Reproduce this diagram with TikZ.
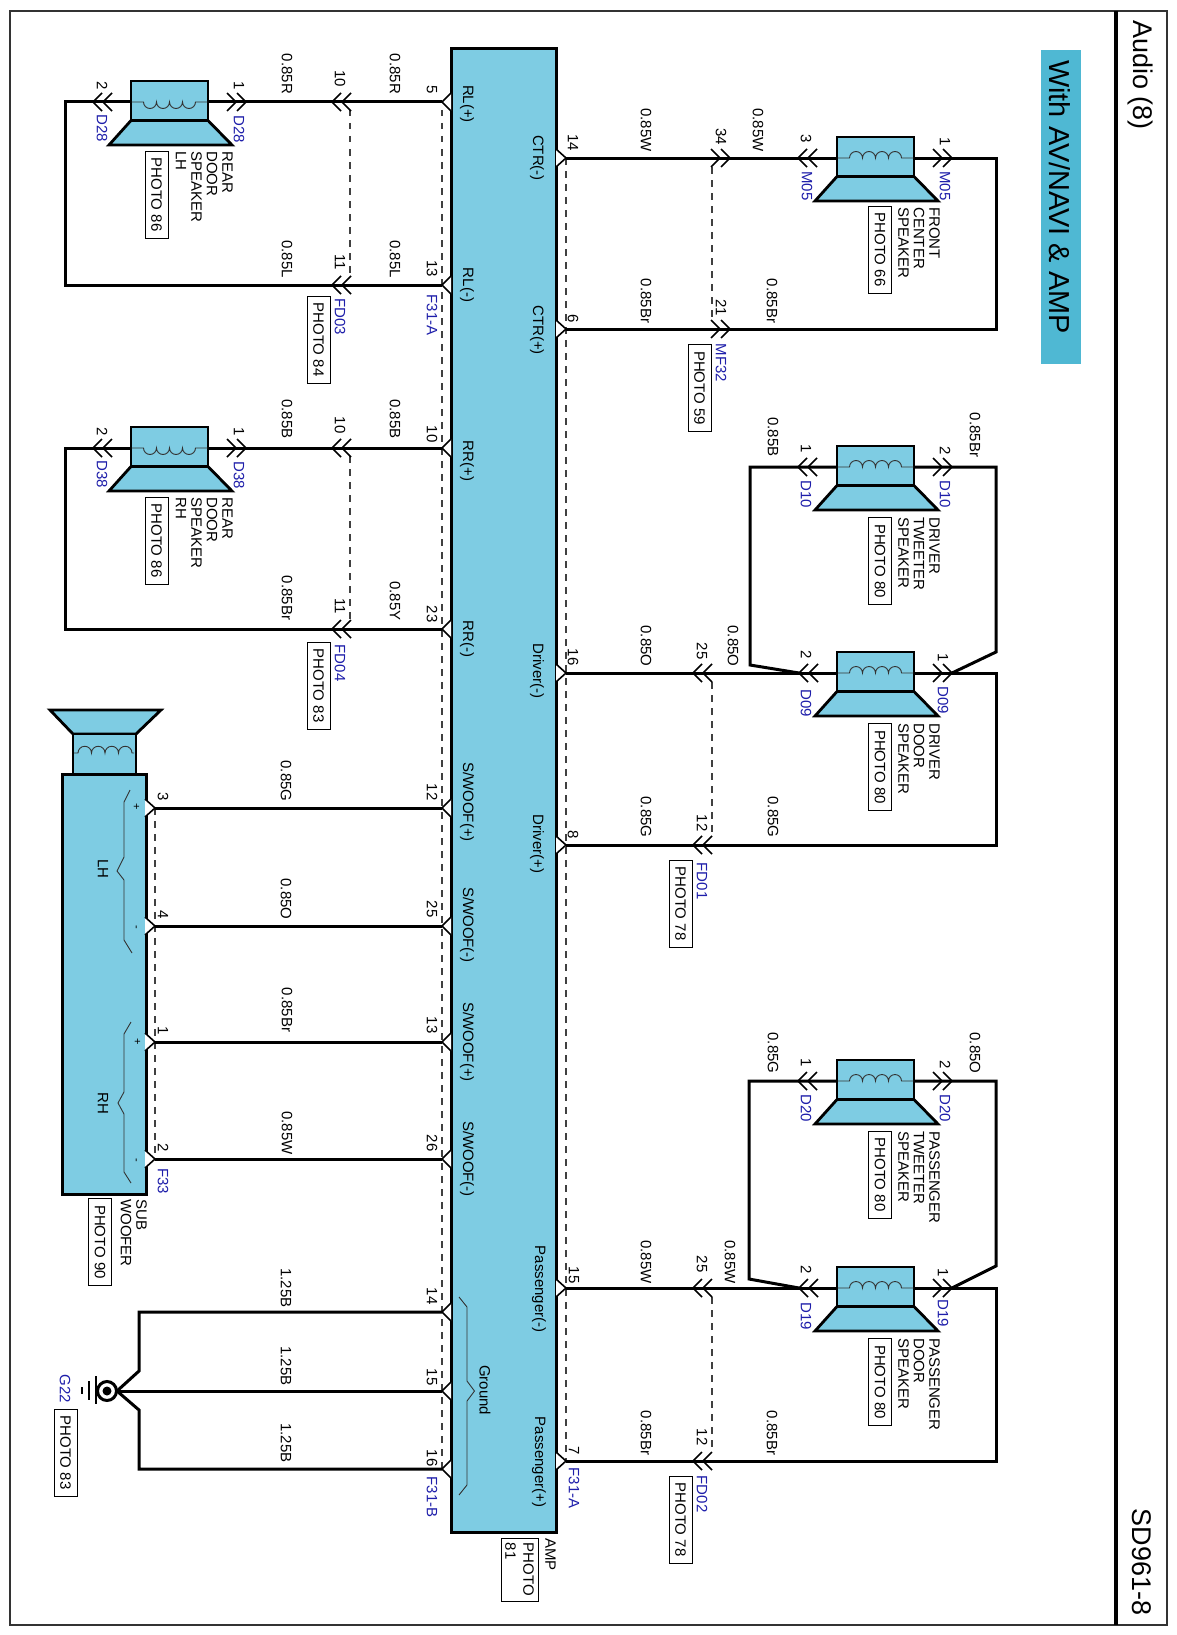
\documentclass[tikz,border=0pt]{standalone}
\usepackage{fontspec}
\setmainfont{Liberation Sans}
\definecolor{ampfill}{RGB}{126,204,227}
\definecolor{titlefill}{RGB}{79,184,211}
\definecolor{conblue}{RGB}{30,30,170}
\tikzset{
    every node/.style={inner sep=0pt, font=\fontsize{15}{15.5}\selectfont},
    pt/.style={shape=coordinate},
    wire/.style={line width=3pt, line join=miter},
    dash line/.style={line width=1.1pt, draw=black!75, dash pattern=on 6.5pt off 6.5pt},
    chev/.style={line width=1.6pt},
    body/.style={line width=2.8pt, fill=ampfill},
    coil/.style={line width=.9pt, draw=black!80},
    conn/.style={text=conblue},
    photo/.style={draw, line width=.8pt, fill=white, inner sep=0pt, anchor=center, align=left},
    caption/.style={anchor=north west, align=left},
    brace/.style={line width=.9pt, draw=black!80},
    pics/conL/.style={code={
        \draw[chev] (9,-9) -- (0,0) -- (9,9);
        \draw[chev] (19,-9) -- (10,0) -- (19,9);
    }},
    pics/conR/.style={code={
        \draw[chev] (-9,-9) -- (0,0) -- (-9,9);
        \draw[chev] (-19,-9) -- (-10,0) -- (-19,9);
    }},
    pics/pinL/.style={code={\draw[chev, fill=white] (9,-9) -- (0,0) -- (9,9);}},
    pics/pinR/.style={code={\draw[chev, fill=white] (-10,-9) -- (0,0) -- (-10,9);}},
    pics/speaker/.style={code={
        \draw[body, line join=miter] (-38.5,18.5) -- (38.5,18.5) -- (62.5,43) -- (-60.5,43) -- cycle;
        \draw[body] (-38.5,-21) rectangle (38.5,18.5);
        \draw[coil] (-38,0) -- (-26,0) arc[start angle=180, end angle=#1, radius=6.5]
            arc[start angle=180, end angle=#1, radius=6.5]
            arc[start angle=180, end angle=#1, radius=6.5]
            arc[start angle=180, end angle=#1, radius=6.5] -- (38,0);
    }},
}
\begin{document}
\begin{tikzpicture}[x=1pt, y=-1pt]
	\useasboundingbox (0,0) rectangle (1176,1635);
	\fill[white] (0,0) rectangle (1176,1635);

	% frame and title
	\draw[line width=1.1pt, draw=black!80] (10,11) rectangle (1167,1625);
	\draw[line width=4pt] (1116,11) -- (1116,1625);
	\fill[titlefill] (1041,50) rectangle (1081,364);

	% wire ends
	\node (amp5) [pt] at (442,102) {};   \node (amp13) [pt] at (442,285) {};
	\node (amp10) [pt] at (442,448) {};  \node (amp23) [pt] at (442,629) {};
	\node (amp12) [pt] at (442,808) {};  \node (amp25) [pt] at (442,926) {};
	\node (amp13b) [pt] at (442,1042) {}; \node (amp26) [pt] at (442,1159) {};
	\node (amp14b) [pt] at (442,1312) {}; \node (amp15b) [pt] at (442,1391) {};
	\node (amp16b) [pt] at (442,1469) {};
	\node (amp14) [pt] at (566,158) {};  \node (amp6) [pt] at (566,329) {};
	\node (amp16) [pt] at (566,673) {};  \node (amp8) [pt] at (566,845) {};
	\node (amp15) [pt] at (566,1288) {}; \node (amp7) [pt] at (566,1461) {};
	\node (sub3) [pt] at (155,808) {};   \node (sub4) [pt] at (155,926) {};
	\node (sub1) [pt] at (155,1042) {};  \node (sub2) [pt] at (155,1159) {};

	\node (rl1) [pt] at (208,102) {};   \node (rl2) [pt] at (131,102) {};
	\node (rlc) [pt] at (65,102) {};    \node (rld) [pt] at (65,285) {};
	\node (rr1) [pt] at (208,448) {};   \node (rr2) [pt] at (131,448) {};
	\node (rrc) [pt] at (65,448) {};    \node (rrd) [pt] at (65,629) {};

	\node (fc3) [pt] at (837,158) {};   \node (fc1) [pt] at (914,158) {};
	\node (fcc) [pt] at (996,158) {};   \node (fcd) [pt] at (996,329) {};

	\node (dt1) [pt] at (837,467) {};   \node (dt2) [pt] at (914,467) {};
	\node (dta) [pt] at (750,467) {};   \node (dtb) [pt] at (750,665) {};
	\node (dtc) [pt] at (996,467) {};   \node (dtd) [pt] at (996,652) {};
	\node (dd2) [pt] at (837,673) {};   \node (dd1) [pt] at (914,673) {};
	\node (dd2t) [pt] at (799,673) {};  \node (dd1t) [pt] at (952,673) {};
	\node (dde) [pt] at (996,673) {};   \node (ddf) [pt] at (996,845) {};

	\node (pt1) [pt] at (837,1081) {};  \node (pt2) [pt] at (914,1081) {};
	\node (pta) [pt] at (749,1081) {};  \node (ptb) [pt] at (749,1279) {};
	\node (ptc) [pt] at (996,1081) {};  \node (ptd) [pt] at (996,1266) {};
	\node (pd2) [pt] at (837,1288) {};  \node (pd1) [pt] at (914,1288) {};
	\node (pd2t) [pt] at (799,1288) {}; \node (pd1t) [pt] at (952,1288) {};
	\node (pde) [pt] at (996,1288) {};  \node (pdf) [pt] at (996,1461) {};

	\node (gnd) [pt] at (117,1391) {};
	\node (gnda) [pt] at (139,1312) {}; \node (gndb) [pt] at (139,1371) {};
	\node (gndc) [pt] at (139,1469) {}; \node (gndd) [pt] at (139,1410) {};

	% dashed ties
	\node (ta) [pt] at (442,110) {};  \node (tb) [pt] at (442,1469) {};
	\node (tc) [pt] at (566,158) {};  \node (td) [pt] at (566,1461) {};
	\node (te) [pt] at (350,110) {};  \node (tf) [pt] at (350,275) {};
	\node (tg) [pt] at (350,456) {};  \node (th) [pt] at (350,620) {};
	\node (ti) [pt] at (712,167) {};  \node (tj) [pt] at (712,320) {};
	\node (tk) [pt] at (712,682) {};  \node (tl) [pt] at (712,837) {};
	\node (tm) [pt] at (712,1297) {}; \node (tn) [pt] at (712,1452) {};
	\draw[dash line] (ta) edge (tb); \draw[dash line] (tc) edge (td);
	\draw[dash line] (te) edge (tf); \draw[dash line] (tg) edge (th);
	\draw[dash line] (ti) edge (tj); \draw[dash line] (tk) edge (tl);
	\draw[dash line] (tm) edge (tn); \draw[dash line] (sub3) edge (sub2);

	% wires
	\draw[wire] (amp5) edge (rl1); \draw[wire] (rl2) -- (rlc) -- (rld) -- (amp13);
	\draw[wire] (amp10) edge (rr1); \draw[wire] (rr2) -- (rrc) -- (rrd) -- (amp23);
	\draw[wire] (amp12) edge (sub3); \draw[wire] (amp25) edge (sub4);
	\draw[wire] (amp13b) edge (sub1); \draw[wire] (amp26) edge (sub2);
	\draw[wire] (amp14) edge (fc3); \draw[wire] (fc1) -- (fcc) -- (fcd) -- (amp6);
	\draw[wire] (dt1) -- (dta) -- (dtb) -- (dd2t);
	\draw[wire] (dt2) -- (dtc) -- (dtd) -- (dd1t);
	\draw[wire] (amp16) edge (dd2); \draw[wire] (dd1) -- (dde) -- (ddf) -- (amp8);
	\draw[wire] (pt1) -- (pta) -- (ptb) -- (pd2t);
	\draw[wire] (pt2) -- (ptc) -- (ptd) -- (pd1t);
	\draw[wire] (amp15) edge (pd2); \draw[wire] (pd1) -- (pde) -- (pdf) -- (amp7);
	\draw[wire] (amp14b) -- (gnda) -- (gndb) -- (gnd);
	\draw[wire] (amp16b) -- (gndc) -- (gndd) -- (gnd);
	\draw[wire] (amp15b) edge (gnd);

	% amp
	\node (amp) [draw, line width=3pt, fill=ampfill, minimum width=105pt, minimum height=1483pt] at (503.5,790.5) {};
	\draw[brace] (459,1297) -- (467,1307) -- (467,1381) -- (474.5,1391) -- (467,1401) -- (467,1485) -- (459,1495);
	\pic at (amp5) {pinL}; \pic at (amp13) {pinL}; \pic at (amp10) {pinL}; \pic at (amp23) {pinL};
	\pic at (amp12) {pinL}; \pic at (amp25) {pinL}; \pic at (amp13b) {pinL}; \pic at (amp26) {pinL};
	\pic at (amp14b) {pinL}; \pic at (amp15b) {pinL}; \pic at (amp16b) {pinL};
	\pic at (amp14) {pinR}; \pic at (amp6) {pinR}; \pic at (amp16) {pinR};
	\pic at (amp8) {pinR}; \pic at (amp15) {pinR}; \pic at (amp7) {pinR};

	% subwoofer
	\draw[body] (73,734) -- (136,734) -- (161,710) -- (50,710) -- cycle;
	\draw[body] (73,734) rectangle (136,774);
	\draw[coil] (74,753) -- (78,753) arc[start angle=180, end angle=360, radius=6.75]
		arc[start angle=180, end angle=360, radius=6.75]
		arc[start angle=180, end angle=360, radius=6.75]
		arc[start angle=180, end angle=360, radius=6.75] -- (134,753);
	\draw[body, line width=3pt] (62,774) rectangle (146,1194);
	\draw[brace] (130,790) -- (124,802) -- (124,857) -- (117,871) -- (124,880) -- (124,940) -- (132,953);
	\draw[brace] (131,1022) -- (124,1034) -- (124,1092) -- (118,1103) -- (124,1114) -- (124,1172) -- (131,1183);
	\pic at (sub3) {pinR}; \pic at (sub4) {pinR}; \pic at (sub1) {pinR}; \pic at (sub2) {pinR};

	% speakers
	\pic at (169.5,102) {speaker=0};
	\pic at (169.5,448) {speaker=0};
	\pic at (875.5,158) {speaker=360};
	\pic at (875.5,467) {speaker=360};
	\pic at (875.5,673) {speaker=360};
	\pic at (875.5,1081) {speaker=360};
	\pic at (875.5,1288) {speaker=360};

	% connectors
	\pic at (93,102) {conL}; \pic at (246,102) {conR}; \pic at (332,102) {conL}; \pic at (332,285) {conL};
	\pic at (93,448) {conL}; \pic at (246,448) {conR}; \pic at (332,448) {conL}; \pic at (332,629) {conL};
	\pic at (798,158) {conL}; \pic at (952,158) {conR}; \pic at (730,158) {conR}; \pic at (730,329) {conR};
	\pic at (798,467) {conL}; \pic at (952,467) {conR};
	\pic at (dd2t) {conL}; \pic at (dd1t) {conR}; \pic at (693,673) {conL}; \pic at (693,845) {conL};
	\pic at (798,1081) {conL}; \pic at (952,1081) {conR};
	\pic at (pd2t) {conL}; \pic at (pd1t) {conR}; \pic at (693,1288) {conL}; \pic at (693,1461) {conL};

	% ground
	\draw[line width=3pt, fill=white] (107,1391) circle (9.5);
	\fill (107,1391) circle (4.5);
	\draw[line width=2pt] (96,1376) -- (96,1404);
	\draw[line width=2pt] (89,1381) -- (89,1400);
	\draw[line width=2.5pt] (82,1387) -- (82,1394);

	\begin{scope}[every node/.append style={rotate=-90}]
	\node (audio) [font=\fontsize{27}{27}\selectfont] at (1140,75) {Audio (8)};
	\node (sheet) [font=\fontsize{27}{27}\selectfont] at (1142,1562) {SD961-8};
	\node (title) [font=\fontsize{28.9}{28.9}\selectfont] at (1060,197) {With AV/NAVI \& AMP};
	\node (subpinA) [font=\fontsize{11}{11}\selectfont] at (136,807) {+};
	\node (subpinB) [font=\fontsize{11}{11}\selectfont] at (135,927) {-};
	\node (subpinC) [font=\fontsize{11}{11}\selectfont] at (137,1042) {+};
	\node (subpinD) [font=\fontsize{11}{11}\selectfont] at (135,1160) {-};
	\node (lh) at (103,869) {LH};
	\node (rh) at (103,1103) {RH};

	% amp pin names
	\node (n1) at (467,104) {RL(+)};      \node (n2) at (467,285) {RL(-)};
	\node (n3) at (467,461) {RR(+)};      \node (n4) at (467,639) {RR(-)};
	\node (n5) at (467,802) {S/WOOF(+)};  \node (n6) at (467,925) {S/WOOF(-)};
	\node (n7) at (467,1042) {S/WOOF(+)}; \node (n8) at (467,1159) {S/WOOF(-)};
	\node (n9) at (485,1390) {Ground};
	\node (n10) at (537,158) {CTR(-)};    \node (n11) at (537,330) {CTR(+)};
	\node (n12) at (537,671) {Driver(-)}; \node (n13) at (537,844) {Driver(+)};
	\node (n14) at (539,1289) {Passenger(-)}; \node (n15) at (539,1462) {Passenger(+)};

	% pin numbers
	\node (a1) at (432,90) {5};     \node (a2) at (432,269) {13};
	\node (a3) at (432,434) {10};   \node (a4) at (432,614) {23};
	\node (a5) at (432,792) {12};   \node (a6) at (432,909) {25};
	\node (a7) at (432,1025) {13};  \node (a8) at (432,1143) {26};
	\node (a9) at (432,1296) {14};  \node (a10) at (432,1377) {15};
	\node (a11) at (432,1458) {16};
	\node (a12) at (573,143) {14};  \node (a13) at (573,319) {6};
	\node (a14) at (573,657) {16};  \node (a15) at (573,835) {8};
	\node (a16) at (574,1275) {15}; \node (a17) at (574,1451) {7};
	\node (a18) at (163,797) {3};   \node (a19) at (163,915) {4};
	\node (a20) at (163,1031) {1};  \node (a21) at (163,1148) {2};
	\node (a22) at (340,79) {10};   \node (a23) at (340,262) {11};
	\node (a24) at (340,425) {10};  \node (a25) at (340,606) {11};
	\node (a26) at (721,137) {34};  \node (a27) at (721,308) {21};
	\node (a28) at (702,651) {25};  \node (a29) at (702,823) {12};
	\node (a30) at (702,1264) {25}; \node (a31) at (702,1437) {12};
	\node (a32) at (102,86) {2};    \node (a33) at (239,86) {1};
	\node (a34) at (102,432) {2};   \node (a35) at (239,432) {1};
	\node (a36) at (806,139) {3};   \node (a37) at (945,142) {1};
	\node (a38) at (806,449) {1};   \node (a39) at (945,451) {2};
	\node (a40) at (806,655) {2};   \node (a41) at (943,658) {1};
	\node (a42) at (806,1063) {1};  \node (a43) at (945,1065) {2};
	\node (a44) at (806,1270) {2};  \node (a45) at (943,1273) {1};

	% connector names
	\node (c1) [conn] at (102,128) {D28};   \node (c2) [conn] at (239,129) {D28};
	\node (c3) [conn] at (102,474) {D38};   \node (c4) [conn] at (239,475) {D38};
	\node (c5) [conn] at (340,317) {FD03};  \node (c6) [conn] at (340,663) {FD04};
	\node (c7) [conn] at (432,315) {F31-A}; \node (c8) [conn] at (432,1497) {F31-B};
	\node (c9) [conn] at (574,1488) {F31-A}; \node (c10) [conn] at (163,1181) {F33};
	\node (c11) [conn] at (65,1389) {G22};
	\node (c12) [conn] at (807,186) {M05};  \node (c13) [conn] at (945,186) {M05};
	\node (c14) [conn] at (721,363) {MF32};
	\node (c15) [conn] at (806,494) {D10};  \node (c16) [conn] at (945,494) {D10};
	\node (c17) [conn] at (806,703) {D09};  \node (c18) [conn] at (943,700) {D09};
	\node (c19) [conn] at (702,881) {FD01}; \node (c20) [conn] at (702,1494) {FD02};
	\node (c21) [conn] at (806,1108) {D20}; \node (c22) [conn] at (945,1108) {D20};
	\node (c23) [conn] at (806,1316) {D19}; \node (c24) [conn] at (943,1313) {D19};

	% wire sizes
	\node (w1) at (287,74) {0.85R};    \node (w2) at (395,74) {0.85R};
	\node (w3) at (287,259) {0.85L};   \node (w4) at (395,259) {0.85L};
	\node (w5) at (287,419) {0.85B};   \node (w6) at (395,419) {0.85B};
	\node (w7) at (287,598) {0.85Br};  \node (w8) at (395,601) {0.85Y};
	\node (w9) at (286,781) {0.85G};   \node (w10) at (286,899) {0.85O};
	\node (w11) at (287,1010) {0.85Br}; \node (w12) at (287,1133) {0.85W};
	\node (w13) at (286,1288) {1.25B}; \node (w14) at (286,1366) {1.25B};
	\node (w15) at (286,1443) {1.25B};
	\node (w16) at (646,130) {0.85W};  \node (w17) at (758,130) {0.85W};
	\node (w18) at (646,301) {0.85Br}; \node (w19) at (772,301) {0.85Br};
	\node (w20) at (773,437) {0.85B};  \node (w21) at (975,435) {0.85Br};
	\node (w22) at (646,646) {0.85O};  \node (w23) at (733,646) {0.85O};
	\node (w24) at (646,817) {0.85G};  \node (w25) at (773,817) {0.85G};
	\node (w26) at (773,1053) {0.85G}; \node (w27) at (975,1053) {0.85O};
	\node (w28) at (646,1262) {0.85W}; \node (w29) at (730,1262) {0.85W};
	\node (w30) at (646,1433) {0.85Br}; \node (w31) at (772,1433) {0.85Br};

	% captions
	\node (s1) [caption] at (233,151) {REAR\\DOOR\\SPEAKER\\LH};
	\node (s2) [caption] at (233,497) {REAR\\DOOR\\SPEAKER\\RH};
	\node (s3) [caption] at (940,207) {FRONT\\CENTER\\SPEAKER};
	\node (s4) [caption] at (940,517) {DRIVER\\TWEETER\\SPEAKER};
	\node (s5) [caption] at (940,723) {DRIVER\\DOOR\\SPEAKER};
	\node (s6) [caption] at (940,1131) {PASSENGER\\TWEETER\\SPEAKER};
	\node (s7) [caption] at (940,1338) {PASSENGER\\DOOR\\SPEAKER};
	\node (s8) [caption] at (147,1199) {SUB\\WOOFER};
	\node (s9) [caption] at (556,1538) {AMP};

	% photo boxes
	\node (p1) [photo, minimum width=87pt, minimum height=23pt] at (156.5,194.5) {PHOTO 86};
	\node (p2) [photo, minimum width=87pt, minimum height=23pt] at (156.5,540.5) {PHOTO 86};
	\node (p3) [photo, minimum width=87pt, minimum height=23pt] at (318.5,339.5) {PHOTO 84};
	\node (p4) [photo, minimum width=87pt, minimum height=23pt] at (318.5,685.5) {PHOTO 83};
	\node (p5) [photo, minimum width=87pt, minimum height=23pt] at (880,249.5) {PHOTO 66};
	\node (p6) [photo, minimum width=87pt, minimum height=23pt] at (699.5,388) {PHOTO 59};
	\node (p7) [photo, minimum width=87pt, minimum height=23pt] at (880,561) {PHOTO 80};
	\node (p8) [photo, minimum width=87pt, minimum height=23pt] at (880,767) {PHOTO 80};
	\node (p9) [photo, minimum width=87pt, minimum height=23pt] at (680.5,903.5) {PHOTO 78};
	\node (p10) [photo, minimum width=87pt, minimum height=23pt] at (880,1174.5) {PHOTO 80};
	\node (p11) [photo, minimum width=87pt, minimum height=23pt] at (880,1382) {PHOTO 80};
	\node (p12) [photo, minimum width=87pt, minimum height=23pt] at (680.5,1519.5) {PHOTO 78};
	\node (p13) [photo, minimum width=87pt, minimum height=23pt] at (100,1242) {PHOTO 90};
	\node (p14) [photo, minimum width=87pt, minimum height=23pt] at (65.5,1452.5) {PHOTO 83};
	\node (p15) [photo, minimum width=63pt, minimum height=37pt, font=\fontsize{15}{18}\selectfont] at (519.5,1569.5) {PHOTO\\81};
	\end{scope}
\end{tikzpicture}
\end{document}
